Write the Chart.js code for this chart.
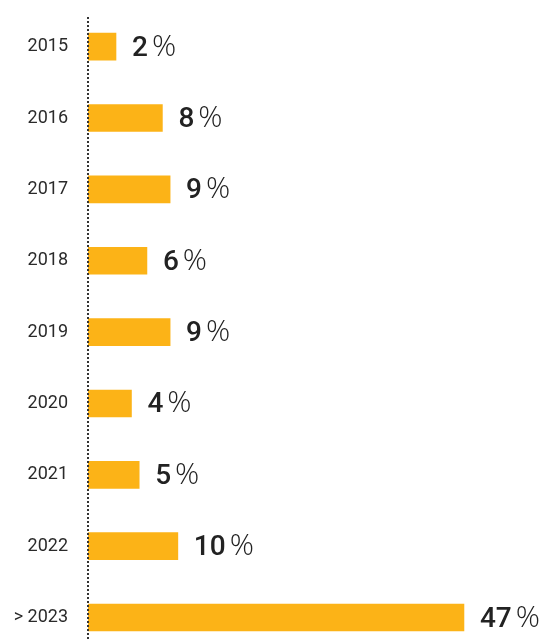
<!DOCTYPE html>
<html>
<head>
<meta charset="utf-8">
<script src="https://cdn.jsdelivr.net/npm/chart.js@4"></script>
<style>
  html, body { margin: 0; padding: 0; background: #fff; overflow: hidden; }
  #yearsChart { position: absolute; left: 0; top: 0; }
</style>
</head>
<body>
<canvas id="yearsChart" width="547" height="664"></canvas>
<script>
const years = ["2015", "2016", "2017", "2018", "2019", "2020", "2021", "2022", "> 2023"];
const shares = [2, 8, 9, 6, 9, 4, 5, 10, 47];
const axisStart = -1.62;

// dotted axis line at the bars' base
const dottedAxis = {
  id: "dottedAxis",
  afterDatasetsDraw(chart) {
    const ctx = chart.ctx;
    const x = chart.scales.x.getPixelForValue(axisStart);
    ctx.save();
    ctx.strokeStyle = "#333";
    ctx.lineWidth = 2;
    ctx.setLineDash([2, 2]);
    ctx.beginPath();
    ctx.moveTo(x, 17);
    ctx.lineTo(x, chart.height);
    ctx.stroke();
    ctx.restore();
  }
};

// draws "47 %" style labels right of each bar
const valueLabels = {
  id: "valueLabels",
  afterDatasetsDraw(chart) {
    const ctx = chart.ctx;
    const meta = chart.getDatasetMeta(0);
    ctx.save();
    ctx.fillStyle = "#222";
    ctx.textBaseline = "alphabetic";
    ctx.textAlign = "left";
    meta.data.forEach((bar, i) => {
      const x = bar.x + 16;
      const y = bar.y + 9;
      const num = String(shares[i]);
      ctx.font = "500 28px Roboto";
      ctx.fillText(num, x, y);
      const w = ctx.measureText(num).width;
      ctx.font = "300 30px 'Open Sans'";
      ctx.fillText("%", x + w + 4, y);
    });
    ctx.restore();
  }
};

new Chart(document.getElementById("yearsChart"), {
  type: "bar",
  data: {
    labels: years,
    datasets: [{
      data: shares,
      base: axisStart,
      backgroundColor: "#FCB317",
      barThickness: 27
    }]
  },
  options: {
    indexAxis: "y",
    responsive: false,
    animation: false,
    layout: { padding: { top: 11, right: 0, bottom: 0, left: 0 } },
    plugins: { legend: { display: false }, tooltip: { enabled: false } },
    scales: {
      x: { display: false, min: axisStart, max: 57.74 },
      y: {
        afterFit(scale) { scale.width = 88; },
        grid: { display: true, drawOnChartArea: false, drawTicks: true, tickLength: 20, color: "transparent" },
        border: { display: false },
        ticks: { color: "#2a2a2a", padding: 0, font: { family: "Roboto", size: 18 } }
      }
    }
  },
  plugins: [valueLabels, dottedAxis]
});
</script>
</body>
</html>
